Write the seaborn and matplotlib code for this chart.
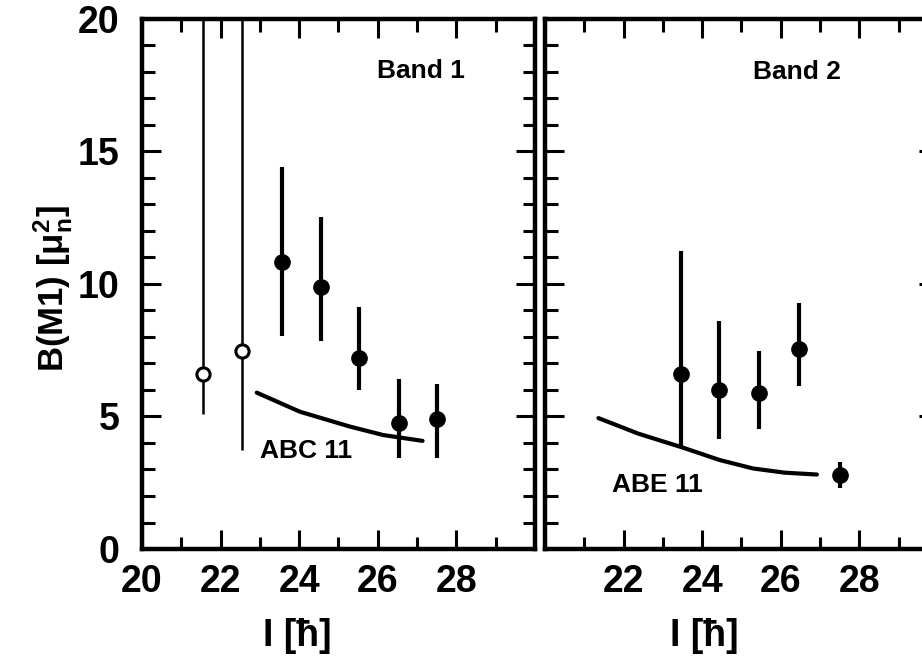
#!/usr/bin/env python3
import numpy as np
import matplotlib
matplotlib.use("Agg")
import matplotlib.pyplot as plt
import seaborn as sns

# Band 1 data (open circles = first two points)
band1_spin = [21.55, 22.55, 23.57, 24.55, 25.53, 26.54, 27.52]
band1_bm1 = [6.62, 7.46, 10.83, 9.90, 7.21, 4.76, 4.92]
band1_lo = [5.08, 3.73, 8.02, 7.83, 6.00, 3.44, 3.44]
band1_hi = [25.0, 25.0, 14.41, 12.54, 9.13, 6.43, 6.24]
band1_open = [True, True, False, False, False, False, False]

# Band 2 data
band2_spin = [23.47, 24.44, 25.45, 26.47, 27.50]
band2_bm1 = [6.59, 5.99, 5.88, 7.54, 2.81]
band2_lo = [3.83, 4.15, 4.51, 6.15, 2.30]
band2_hi = [11.25, 8.60, 7.46, 9.27, 3.28]

# theory curves
abc_spin = [22.92, 23.5, 24.02, 24.7, 25.29, 26.14, 27.14]
abc_bm1 = [5.90, 5.52, 5.18, 4.88, 4.62, 4.30, 4.08]
abe_spin = [21.36, 22.38, 23.50, 24.44, 25.29, 26.10, 26.92]
abe_bm1 = [4.94, 4.35, 3.83, 3.36, 3.04, 2.88, 2.81]

sns.set_theme(style="ticks")
plt.rcParams["font.family"] = ["Liberation Sans", "DejaVu Sans"]
plt.rcParams["mathtext.default"] = "regular"
plt.rcParams["axes.linewidth"] = 3.2
plt.rcParams["axes.edgecolor"] = "black"
plt.rcParams["text.color"] = "black"
plt.rcParams["axes.labelcolor"] = "black"

fig = plt.figure(figsize=(9.22, 6.56), dpi=100)
ax1 = fig.add_axes([0.154, 0.1631, 0.4262, 0.808])
ax2 = fig.add_axes([0.5911, 0.1631, 0.4262, 0.808])


def errs(val, lo, hi):
    val = np.array(val)
    return [val - np.array(lo), np.array(hi) - val]


# Band 1
e = errs(band1_bm1, band1_lo, band1_hi)
for i in range(len(band1_spin)):
    if band1_open[i]:
        ax1.errorbar(band1_spin[i], band1_bm1[i], yerr=[[e[0][i]], [e[1][i]]],
                     fmt="o", ms=9.5, mfc="white", mec="black", mew=2.2,
                     ecolor="black", elinewidth=1.8, capsize=0, zorder=3)
    else:
        ax1.errorbar(band1_spin[i], band1_bm1[i], yerr=[[e[0][i]], [e[1][i]]],
                     fmt="o", ms=11, color="black",
                     ecolor="black", elinewidth=3.0, capsize=0, zorder=3)
sns.lineplot(x=abc_spin, y=abc_bm1, ax=ax1, color="black", linewidth=3.0)

# Band 2
e = errs(band2_bm1, band2_lo, band2_hi)
ax2.errorbar(band2_spin, band2_bm1, yerr=e, fmt="o", ms=11, color="black",
             ecolor="black", elinewidth=3.0, capsize=0, zorder=3)
sns.lineplot(x=abe_spin, y=abe_bm1, ax=ax2, color="black", linewidth=3.0)

ax1.text(27.1, 18.05, "Band 1", ha="center", va="center", fontsize=19, fontweight="bold")
ax2.text(26.4, 18.0, "Band 2", ha="center", va="center", fontsize=19, fontweight="bold")
ax1.text(23.0, 3.7, "ABC 11", ha="left", va="center", fontsize=19, fontweight="bold")
ax2.text(21.7, 2.4, "ABE 11", ha="left", va="center", fontsize=19, fontweight="bold")

for ax in (ax1, ax2):
    ax.set_xlim(20, 30)
    ax.set_ylim(0, 20)
    ax.set_yticks([0, 5, 10, 15, 20])
    ax.set_yticks(np.arange(0, 21, 1), minor=True)
    ax.set_xticks(np.arange(20, 31, 1), minor=True)
    ax.tick_params(which="both", direction="in", top=True, right=True,
                   width=2.2, colors="black")
    ax.tick_params(which="major", length=14, labelsize=27, pad=11)
    ax.tick_params(which="minor", length=9)
    ax.tick_params(axis="y", which="major", pad=16)
    ax.set_xlabel("I [ħ]", fontsize=27, fontweight="bold")
    ax.set_ylabel("")

ax1.set_xticks([20, 22, 24, 26, 28])
ax2.set_xticks([22, 24, 26, 28])
for lbl in ax1.get_xticklabels() + ax2.get_xticklabels() + ax1.get_yticklabels():
    lbl.set_fontweight("bold")
ax2.tick_params(axis="y", labelleft=False)

ax1.xaxis.set_label_coords(0.394, -0.13)
ax2.xaxis.set_label_coords(0.405, -0.13)
ax1.set_ylabel("B(M1) [$\\mu_n^2$]", fontsize=25, fontweight="bold")
ax1.yaxis.set_label_coords(-0.17, 0.492)

fig.savefig("out.png", dpi=100, facecolor="white")
